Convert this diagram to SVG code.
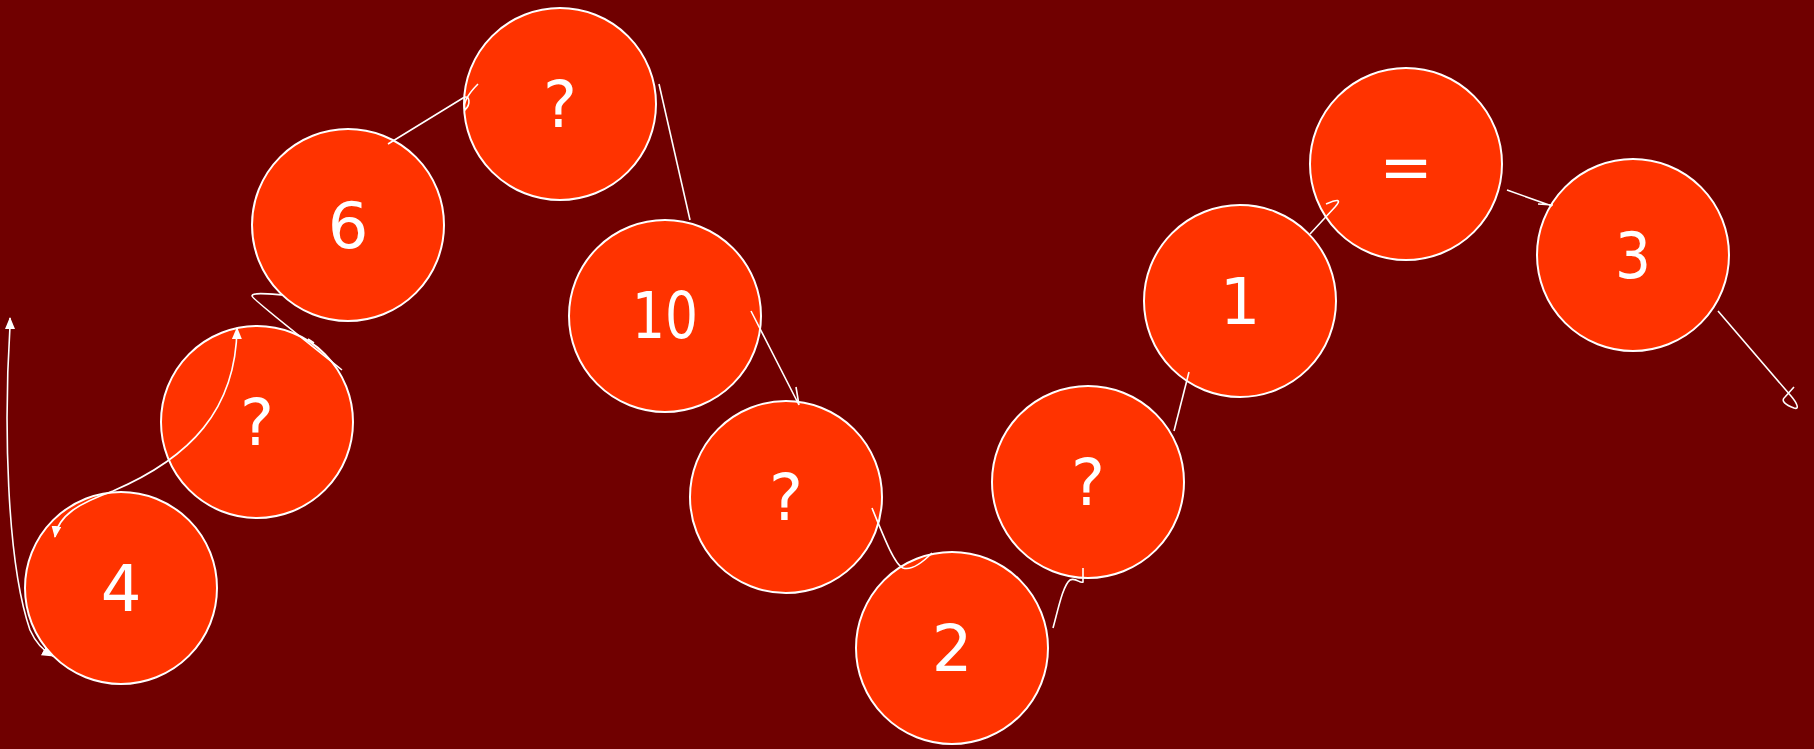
<svg xmlns="http://www.w3.org/2000/svg" width="1814" height="749" viewBox="0 0 1814 749">
<style>
.node circle{fill:#ff3300;stroke:#ffffff;stroke-width:2}
.node text{fill:#ffffff;font-family:"DejaVu Sans",sans-serif;font-size:64px;text-anchor:middle}
.conn path{fill:none;stroke:#ffffff;stroke-width:1.6}
</style>
<defs>
<marker id="ah" viewBox="0 0 12 10" refX="11" refY="5" markerWidth="12" markerHeight="10" markerUnits="userSpaceOnUse" orient="auto-start-reverse">
<path d="M0,0 L12,5 L0,10 Z" fill="#ffffff"/>
</marker>
</defs>
<rect width="1814" height="749" fill="#700000"/>
<g id="n4" class="node"><circle cx="121" cy="588" r="96"/><text x="121" y="611">4</text></g>
<g id="nq1" class="node"><circle cx="257" cy="422" r="96"/><text x="257" y="445">?</text></g>
<g id="n6" class="node"><circle cx="348" cy="225" r="96"/><text x="348" y="248">6</text></g>
<g id="nq2" class="node"><circle cx="560" cy="104" r="96"/><text x="560" y="127">?</text></g>
<g id="n10" class="node"><circle cx="665" cy="316" r="96"/><text x="665" y="338" textLength="66" lengthAdjust="spacingAndGlyphs">10</text></g>
<g id="nq3" class="node"><circle cx="786" cy="497" r="96"/><text x="786" y="520">?</text></g>
<g id="n2" class="node"><circle cx="952" cy="648" r="96"/><text x="952" y="671">2</text></g>
<g id="nq4" class="node"><circle cx="1088" cy="482" r="96"/><text x="1088" y="505">?</text></g>
<g id="n1" class="node"><circle cx="1240" cy="301" r="96"/><text x="1240" y="324">1</text></g>
<g id="neq" class="node"><circle cx="1406" cy="164" r="96"/><text x="1406" y="189">=</text></g>
<g id="n3" class="node"><circle cx="1633" cy="255" r="96"/><text x="1633" y="278" textLength="36" lengthAdjust="spacingAndGlyphs">3</text></g>
<g id="connectors" class="conn">
<path d="M10,318 L10,326 C4,420 6,560 30,630 Q38,648 53,656" marker-start="url(#ah)" marker-end="url(#ah)"/>
<path d="M55,537 C58,515 80,503 113,491 C190,458 236,410 237,328" marker-start="url(#ah)" marker-end="url(#ah)"/>
<path d="M283,295 C270,294 252,292 252,296 C252,299 300,336 342,370 M308,339 L314,343"/>
<path d="M388,144 L463,98 C470,94 471,104 465,110 C463,104 466,96 478,84"/>
<path d="M659,84 L690,220"/>
<path d="M751,311 L799,405 L796,387"/>
<path d="M872,508 C885,540 895,565 903,568 C912,571 925,560 932,553"/>
<path d="M1053,628 C1058,610 1063,585 1070,580 C1076,577 1080,584 1083,582 L1083,568"/>
<path d="M1174,431 L1189,372"/>
<path d="M1310,234 L1335,207 C1342,199 1338,199 1326,204"/>
<path d="M1507,190 L1552,206 M1538,204 L1553,205"/>
<path d="M1718,311 L1791,396 C1797,403 1800,410 1794,408 C1786,405 1780,401 1785,397 L1794,387"/>
</g>
</svg>
